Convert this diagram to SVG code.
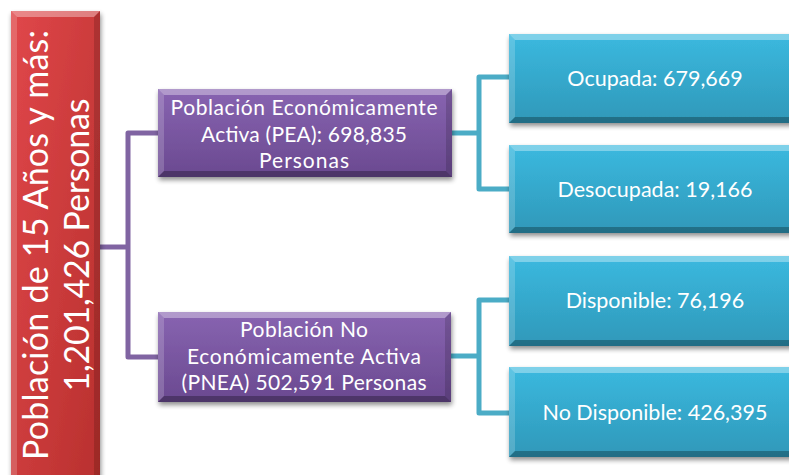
<svg xmlns="http://www.w3.org/2000/svg" width="789" height="475" viewBox="0 0 789 475">
<defs>
<linearGradient id="gRed" x1="0" y1="0" x2="1" y2="1">
<stop offset="0" stop-color="#E0474A"/>
<stop offset="1" stop-color="#B8302E"/>
</linearGradient>
<linearGradient id="gPur" x1="0" y1="0" x2="0" y2="1">
<stop offset="0" stop-color="#8864B1"/>
<stop offset="1" stop-color="#6A4990"/>
</linearGradient>
<linearGradient id="gCy" x1="0" y1="0" x2="0" y2="1">
<stop offset="0" stop-color="#3BB9DF"/>
<stop offset="1" stop-color="#2F98B9"/>
</linearGradient>
<filter id="sh" x="-10%" y="-10%" width="130%" height="130%">
<feGaussianBlur in="SourceAlpha" stdDeviation="2.5"/>
<feOffset dx="1" dy="3" result="b"/>
<feComponentTransfer><feFuncA type="linear" slope="0.45"/></feComponentTransfer>
<feMerge><feMergeNode/><feMergeNode in="SourceGraphic"/></feMerge>
</filter>
</defs>
<style>
.t{font-family:Lato,"Liberation Sans",sans-serif;fill:#FFFFFF;text-anchor:middle}
.bt{fill:#FFFFFF;opacity:0.35}
.bl{fill:#FFFFFF;opacity:0.18}
.br{fill:#000000;opacity:0.15}
.bb{fill:#000000;opacity:0.28}
.cp{fill:none;stroke:#8064A2;stroke-width:5;stroke-linejoin:round;stroke-linecap:butt}
.cc{fill:none;stroke:#4BACC6;stroke-width:5;stroke-linejoin:round;stroke-linecap:butt}
</style>
<rect width="789" height="475" fill="#FFFFFF"/>

<g id="connectors">
<path class="cp" d="M100,247 H128"/>
<path class="cp" d="M159,133 H128 V357 H159"/>
<path class="cc" d="M452,133 H479"/>
<path class="cc" d="M510,77 H479 V189 H510"/>
<path class="cc" d="M451,356 H479"/>
<path class="cc" d="M510,300 H479 V413 H510"/>
</g>

<g id="n-total">
<g filter="url(#sh)">
<rect x="11" y="11" width="89" height="480" fill="url(#gRed)"/>
<polygon class="bt" points="11,11 100,11 94,17 17,17"/>
<polygon class="bl" points="11,11 17,17 17,485 11,491"/>
<polygon class="br" points="100,11 100,491 94,485 94,17"/>
</g>
<g transform="translate(56,245) rotate(-90)">
<text class="t" x="0" y="-8.5" font-size="34" textLength="430">Población de 15 Años y más:</text>
<text class="t" x="0" y="32.5" font-size="34" textLength="293">1,201,426 Personas</text>
</g>
</g>

<g id="n-pea">
<g filter="url(#sh)">
<rect x="158" y="89" width="294" height="88" fill="url(#gPur)"/>
<polygon class="bt" points="158,89 452,89 446,95 164,95"/>
<polygon class="bl" points="158,89 164,95 164,171 158,177"/>
<polygon class="br" points="452,89 452,177 446,171 446,95"/>
<polygon class="bb" points="158,177 452,177 446,171 164,171"/>
</g>
<text class="t" x="304" y="115" font-size="21" textLength="267">Población Económicamente</text>
<text class="t" x="304" y="142" font-size="21" textLength="206">Activa (PEA): 698,835</text>
<text class="t" x="304" y="168" font-size="21" textLength="90">Personas</text>
</g>

<g id="n-pnea">
<g filter="url(#sh)">
<rect x="158" y="312" width="293" height="90" fill="url(#gPur)"/>
<polygon class="bt" points="158,312 451,312 445,318 164,318"/>
<polygon class="bl" points="158,312 164,318 164,396 158,402"/>
<polygon class="br" points="451,312 451,402 445,396 445,318"/>
<polygon class="bb" points="158,402 451,402 445,396 164,396"/>
</g>
<text class="t" x="304" y="337" font-size="21" textLength="128">Población No</text>
<text class="t" x="304" y="364" font-size="21" textLength="234">Económicamente Activa</text>
<text class="t" x="304" y="390" font-size="21" textLength="245">(PNEA) 502,591 Personas</text>
</g>

<g id="n-ocupada">
<g filter="url(#sh)">
<rect x="509" y="34" width="290" height="89" fill="url(#gCy)"/>
<polygon class="bt" points="509,34 799,34 793,40 515,40"/>
<polygon class="bl" points="509,34 515,40 515,117 509,123"/>
<polygon class="bb" points="509,123 799,123 793,117 515,117"/>
</g>
<text class="t" x="655" y="86" font-size="21.5">Ocupada: 679,669</text>
</g>

<g id="n-desocupada">
<g filter="url(#sh)">
<rect x="509" y="145" width="290" height="88" fill="url(#gCy)"/>
<polygon class="bt" points="509,145 799,145 793,151 515,151"/>
<polygon class="bl" points="509,145 515,151 515,227 509,233"/>
<polygon class="bb" points="509,233 799,233 793,227 515,227"/>
</g>
<text class="t" x="655" y="197" font-size="21.5">Desocupada: 19,166</text>
</g>

<g id="n-disponible">
<g filter="url(#sh)">
<rect x="509" y="256" width="290" height="90" fill="url(#gCy)"/>
<polygon class="bt" points="509,256 799,256 793,262 515,262"/>
<polygon class="bl" points="509,256 515,262 515,340 509,346"/>
<polygon class="bb" points="509,346 799,346 793,340 515,340"/>
</g>
<text class="t" x="655" y="308" font-size="21.5">Disponible: 76,196</text>
</g>

<g id="n-nodisponible">
<g filter="url(#sh)">
<rect x="509" y="367" width="290" height="90" fill="url(#gCy)"/>
<polygon class="bt" points="509,367 799,367 793,373 515,373"/>
<polygon class="bl" points="509,367 515,373 515,451 509,457"/>
<polygon class="bb" points="509,457 799,457 793,451 515,451"/>
</g>
<text class="t" x="655" y="420" font-size="21.5">No Disponible: 426,395</text>
</g>
</svg>
